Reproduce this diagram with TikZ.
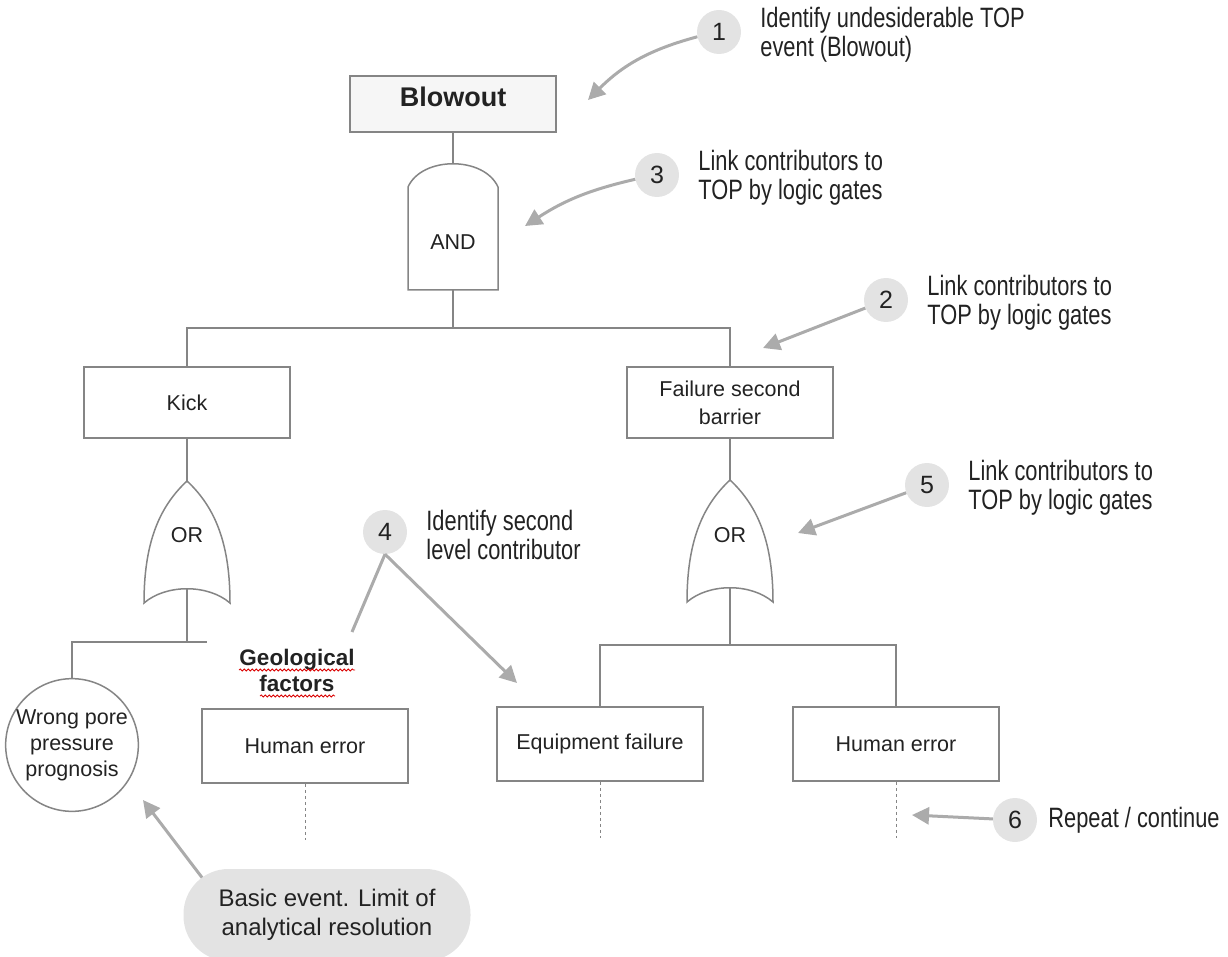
\documentclass[tikz,border=0pt]{standalone}
\usepackage{fontspec}
\setmainfont{Liberation Sans}
\newfontfamily\narrowsans[FakeStretch=0.78]{Liberation Sans}
\usetikzlibrary{positioning,arrows.meta,decorations.pathmorphing}

\definecolor{linegray}{HTML}{858585}
\definecolor{arrowgray}{HTML}{ABABAB}
\definecolor{calloutgray}{HTML}{E3E3E3}
\definecolor{topfill}{HTML}{F6F6F6}
\definecolor{inkblack}{HTML}{222222}

\newcommand{\treefont}{\fontsize{21.5}{28}\selectfont}
\newcommand{\notefont}{\narrowsans\fontsize{28}{29}\selectfont}

\pgfdeclarelayer{back}
\pgfsetlayers{back,main}

\begin{document}
\begin{tikzpicture}[x=1pt,y=-1pt,
  treeline/.style={draw=linegray,line width=1.5pt},
  eventbox/.style={draw=linegray,line width=1.5pt,minimum width=206pt,minimum height=74pt,
    align=center,text=inkblack,font=\treefont,inner sep=0pt},
  gatelbl/.style={text=inkblack,font=\treefont,inner sep=0pt},
  continued/.style={draw=linegray,line width=1pt,dash pattern=on 3pt off 3pt},
  stepnum/.style={circle,fill=calloutgray,minimum size=44pt,inner sep=0pt,
    text=inkblack,font=\fontsize{25}{25}\selectfont},
  steptext/.style={right=19pt of #1,yshift=-3pt,align=left,inner sep=0pt,
    text=inkblack,font=\notefont},
  steparrow/.style={draw=arrowgray,line width=3pt,-{Triangle[length=17pt,width=17pt]}},
  squiggle/.style={draw=red!85!black,line width=0.8pt,decorate,
    decoration={snake,amplitude=1pt,segment length=4pt}}]
\useasboundingbox (0,0) rectangle (1228,957);

% TOP event and AND gate
\node[eventbox,fill=topfill,minimum height=56pt,text depth=14pt,
  font=\bfseries\fontsize{27}{30}\selectfont] (blowout) at (453,104) {Blowout};
\draw[treeline,fill=white] (408,290) -- (408,187) .. controls (422,156) and (484,156) .. (498,187) -- (498,290) -- cycle;
\node[gatelbl] (andg) at (453,242) {AND};
\coordinate (andin) at (453,164);
\coordinate (andout) at (453,290);
\coordinate (split1) at (453,328);
\draw[treeline] (blowout) -- (andin);
\draw[treeline] (andout) -- (split1);

% first level
\node[eventbox,minimum height=71pt] (kick) at (187,402.5) {Kick};
\node[eventbox,minimum height=71pt] (fsb) at (730,402.5) {Failure second\\barrier};
\draw[treeline] (split1) -| (kick);
\draw[treeline] (split1) -| (fsb);

% OR gates
\draw[treeline,fill=white] (187,481) .. controls (158,508) and (144,545) .. (144,603)
  .. controls (166,584) and (208,584) .. (230,603)
  .. controls (230,545) and (216,508) .. (187,481) -- cycle;
\node[gatelbl] (orA) at (187,535) {OR};
\coordinate (orAin) at (187,481);
\coordinate (orAout) at (187,589);
\coordinate (splitA) at (187,642);
\coordinate (stubA) at (207,642);
\draw[treeline,fill=white] (730,480) .. controls (701,507) and (687,544) .. (687,602)
  .. controls (709,583) and (751,583) .. (773,602)
  .. controls (773,544) and (759,507) .. (730,480) -- cycle;
\node[gatelbl] (orB) at (730,535) {OR};
\coordinate (orBin) at (730,480);
\coordinate (orBout) at (730,588);
\coordinate (splitB) at (730,645);
\draw[treeline] (kick) -- (orAin);
\draw[treeline] (fsb) -- (orBin);

% second level
\node[circle,draw=linegray,line width=1.5pt,minimum size=130pt,inner sep=0pt,align=center,
  text=inkblack,font=\fontsize{21.5}{26}\selectfont] (wpp) at (72,745) {Wrong pore\\pressure\\prognosis};
\node[eventbox] (hel) at (305,746) {Human error};
\node[eventbox] (eqf) at (600,744) {Equipment failure};
\node[eventbox] (her) at (896,744) {Human error};
\node[inner sep=0pt,align=center,text=inkblack,font=\bfseries\fontsize{22.5}{26}\selectfont] (geo) at (297,670) {Geological\\factors};
\draw[squiggle] (239,670) -- (355,670);
\draw[squiggle] (260,696) -- (335,696);
\draw[treeline] (orAout) -- (splitA) -| (wpp);
\draw[treeline] (splitA) -- (stubA);
\draw[treeline] (orBout) -- (splitB) -| (eqf);
\draw[treeline] (splitB) -| (her);

% to be continued
\coordinate (helend) at (305,840);
\coordinate (eqfend) at (600,838);
\coordinate (herend) at (896,838);
\draw[continued] (hel) -- (helend);
\draw[continued] (eqf) -- (eqfend);
\draw[continued] (her) -- (herend);

% numbered steps
\node[stepnum] (c1) at (719,32) {1};
\node[steptext=c1] (t1) {Identify undesiderable TOP\\event (Blowout)};
\node[stepnum] (c3) at (657,175) {3};
\node[steptext=c3] (t3) {Link contributors to\\TOP by logic gates};
\node[stepnum] (c2) at (886,300) {2};
\node[steptext=c2] (t2) {Link contributors to\\TOP by logic gates};
\node[stepnum] (c5) at (927,485) {5};
\node[steptext=c5] (t5) {Link contributors to\\TOP by logic gates};
\node[stepnum] (c4) at (385,532) {4};
\node[steptext=c4] (t4) {Identify second\\level contributor};
\node[stepnum] (c6) at (1015,820) {6};
\node[right=11pt of c6,inner sep=0pt,text=inkblack,font=\notefont] (t6) {Repeat / continue};
\node[fill=calloutgray,rounded corners=45pt,minimum width=287pt,minimum height=92pt,align=center,
  text=inkblack,font=\fontsize{24}{29}\selectfont] (basic) at (327,915) {Basic event. Limit of\\analytical resolution};

\coordinate (tip1) at (588,100);
\coordinate (tip3) at (525,226);
\coordinate (tip2) at (763,348);
\coordinate (tip5) at (798,533);
\coordinate (geoend) at (352,632);
\coordinate (tip4) at (517,683);
\coordinate (tip6) at (912,815);
\coordinate (tip7) at (143,800);
\draw[steparrow] (c1) to[bend right=15] (tip1);
\draw[steparrow] (c3) to[bend right=10] (tip3);
\draw[steparrow] (c2) -- (tip2);
\draw[steparrow] (c5) -- (tip5);
\draw[steparrow,-] (c4.south) -- (geoend);
\draw[steparrow] (c4.south) -- (tip4);
\draw[steparrow] (c6) -- (tip6);
\begin{pgfonlayer}{back}
\draw[steparrow] ([xshift=25pt,yshift=-17pt]basic.north west) -- (tip7);
\end{pgfonlayer}
\end{tikzpicture}
\end{document}
